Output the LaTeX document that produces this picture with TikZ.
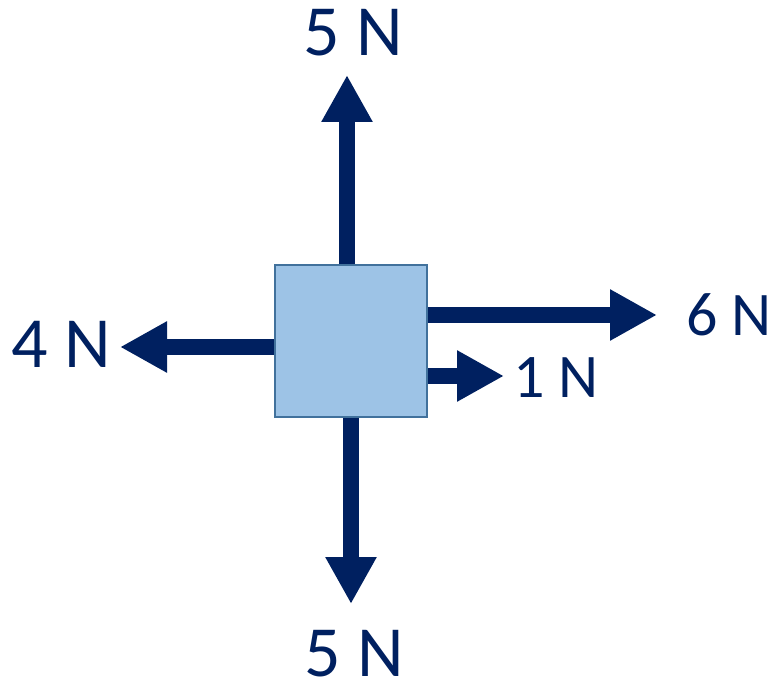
\documentclass[tikz,border=0pt]{standalone}
\usepackage{fontspec}
\setmainfont{Carlito}
\usetikzlibrary{arrows.meta}
\definecolor{navy}{HTML}{002060}
\definecolor{boxfill}{HTML}{9DC3E6}
\definecolor{boxline}{HTML}{41719C}
\tikzset{
  force/.style={draw=navy, line width=16pt, line cap=butt,
    -{Triangle[length=47pt,width=48pt]}},
  bigl/.style={text=navy, font=\fontsize{72}{72}\selectfont, inner sep=0pt, anchor=base},
  smalll/.style={text=navy, font=\fontsize{62}{62}\selectfont, inner sep=0pt, anchor=base},
}
\begin{document}
\begin{tikzpicture}[x=1pt,y=-1pt]
\useasboundingbox (0,0) rectangle (774,682);
\node[draw=boxline, line width=2pt, fill=boxfill, minimum width=152pt, minimum height=152pt, inner sep=0pt] (box) at (351,341) {};
\coordinate (tupT) at (347,75);
\coordinate (tdnT) at (351,604);
\coordinate (tlfT) at (120,347);
\coordinate (tsxT) at (657,315);
\coordinate (toneT) at (504,376);
\draw[force] (box.north -| tupT) -- (tupT);
\draw[force] (box.south -| tdnT) -- (tdnT);
\draw[force] (box.west |- tlfT) -- (tlfT);
\draw[force] (box.east |- tsxT) -- (tsxT);
\draw[force] (box.east |- toneT) -- (toneT);
\node[bigl] (lup) at (353,56) {5 N};
\node[bigl] (ldn) at (354,676) {5 N};
\node[bigl] (llf) at (61,367) {4 N};
\node[smalll] (lsx) at (729,335) {6 N};
\node[smalll] (lone) at (556,397) {1 N};
\end{tikzpicture}
\end{document}
